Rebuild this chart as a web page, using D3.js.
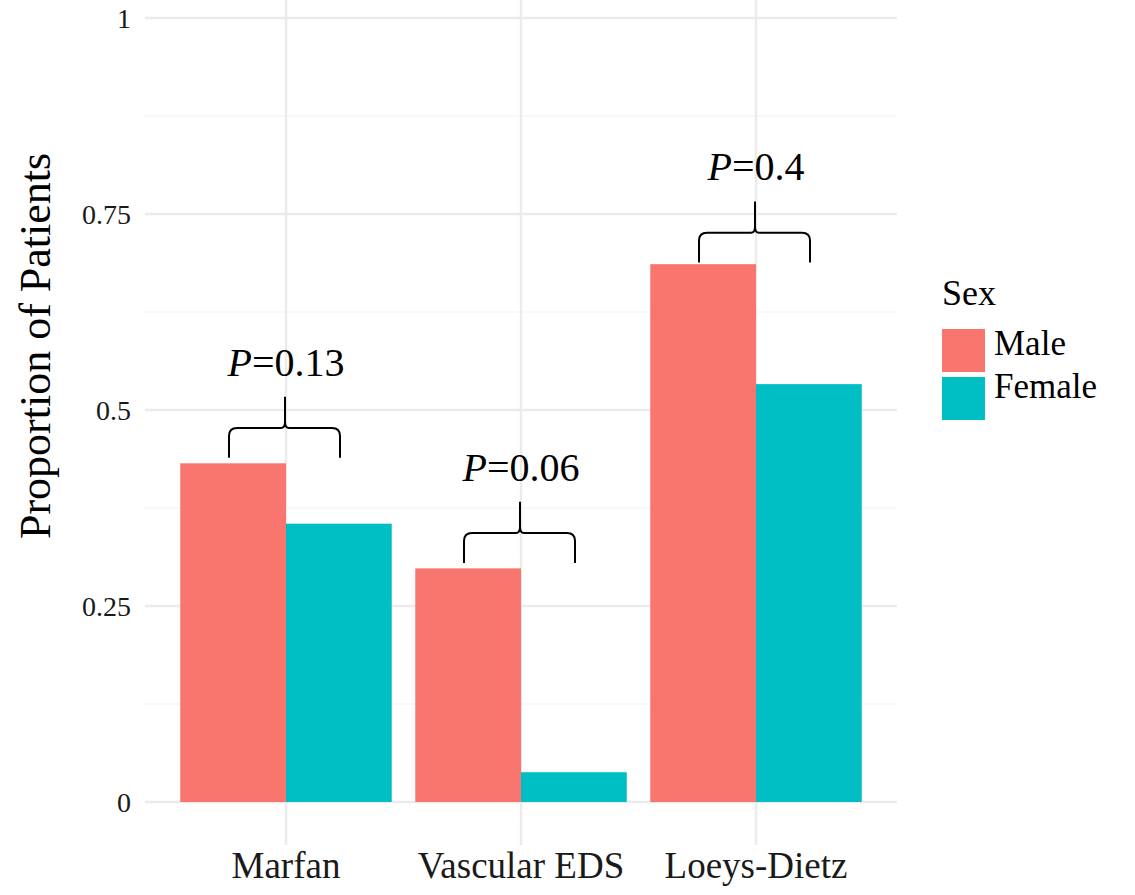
<!DOCTYPE html>
<html>
<head>
<meta charset="utf-8">
<script src="https://cdn.jsdelivr.net/npm/d3@7"></script>
<style>
  body { margin: 0; background: #fff; }
  svg { display: block; font-family: "Palatino Linotype", Palatino, "Book Antiqua", "Liberation Serif", serif; }
</style>
</head>
<body>
<div id="chart"></div>
<script>
// data
const categories = ['Marfan', 'Vascular EDS', 'Loeys-Dietz'];
const sexes = ['Male', 'Female'];
const maleValues = [0.432, 0.298, 0.686];
const femaleValues = [0.355, 0.038, 0.533];
const pLabels = ['0.13', '0.06', '0.4'];
const braceBase = [0.439, 0.305, 0.688];
const majorTicks = [0, 0.25, 0.5, 0.75, 1];
const minorTicks = [0.125, 0.375, 0.625, 0.875];
const tickLabels = ['0', '0.25', '0.5', '0.75', '1'];

const width = 1135, height = 895;
const panel = { left: 145, right: 897, top: 0, bottom: 845 };
const colors = { Male: '#F8766D', Female: '#00BFC4' };

const svg = d3.select('#chart').append('svg')
  .attr('width', width)
  .attr('height', height);

// ggplot style discrete scale with 0.6 expansion each side
const step = (panel.right - panel.left) / (categories.length - 1 + 1.2);
const x = d3.scalePoint()
  .domain(categories)
  .range([panel.left + 0.6 * step, panel.right - 0.6 * step]);
const barW = step * 0.9 / 2;

const y = d3.scaleLinear().domain([0, 1]).range([802, 18]);

// grid
const grid = svg.append('g');
grid.selectAll('line.minor')
  .data(minorTicks)
  .enter().append('line')
  .attr('x1', panel.left).attr('x2', panel.right)
  .attr('y1', d => y(d)).attr('y2', d => y(d))
  .attr('stroke', '#f2f2f2').attr('stroke-width', 1.2);
grid.selectAll('line.major')
  .data(majorTicks)
  .enter().append('line')
  .attr('x1', panel.left).attr('x2', panel.right)
  .attr('y1', d => y(d)).attr('y2', d => y(d))
  .attr('stroke', '#ebebeb').attr('stroke-width', 2.4);
grid.selectAll('line.vert')
  .data(categories)
  .enter().append('line')
  .attr('x1', d => x(d)).attr('x2', d => x(d))
  .attr('y1', panel.top).attr('y2', panel.bottom)
  .attr('stroke', '#ebebeb').attr('stroke-width', 2.4);

// bars
const rows = [];
categories.forEach((c, i) => {
  rows.push({ cat: c, sex: 'Male', value: maleValues[i] });
  rows.push({ cat: c, sex: 'Female', value: femaleValues[i] });
});
svg.append('g').selectAll('rect')
  .data(rows)
  .enter().append('rect')
  .attr('x', d => x(d.cat) + (d.sex === 'Male' ? -barW : 0))
  .attr('width', barW)
  .attr('y', d => y(d.value))
  .attr('height', d => y(0) - y(d.value))
  .attr('fill', d => colors[d.sex]);

// braces + p values
const ann = svg.append('g');
categories.forEach((c, i) => {
  const cx = x(c);
  const x0 = cx - 57, x1 = cx + 54;
  const yb = y(braceBase[i]);
  const yh = y(braceBase[i] + 0.038);
  const yp = y(braceBase[i] + 0.078);
  const r = 8;
  const path = d3.path();
  path.moveTo(x0, yb);
  path.lineTo(x0, yh + r);
  path.quadraticCurveTo(x0, yh, x0 + r, yh);
  path.lineTo(cx - 5, yh);
  path.quadraticCurveTo(cx - 1, yh, cx - 1, yh - 6);
  path.lineTo(cx - 1, yp);
  path.moveTo(cx - 1, yh - 6);
  path.quadraticCurveTo(cx - 1, yh, cx + 3, yh);
  path.lineTo(x1 - r, yh);
  path.quadraticCurveTo(x1, yh, x1, yh + r);
  path.lineTo(x1, yb);
  ann.append('path')
    .attr('d', path.toString())
    .attr('fill', 'none')
    .attr('stroke', '#000')
    .attr('stroke-width', 2);
  const t = ann.append('text')
    .attr('x', cx)
    .attr('y', y(braceBase[i] + 0.078) - 21)
    .attr('text-anchor', 'middle')
    .attr('font-size', 40)
    .attr('fill', '#000');
  t.append('tspan').attr('font-style', 'italic').text('P');
  t.append('tspan').text('=' + pLabels[i]);
});

// y axis labels
svg.append('g').selectAll('text')
  .data(majorTicks)
  .enter().append('text')
  .attr('x', 131)
  .attr('y', d => y(d))
  .attr('dy', '0.35em')
  .attr('text-anchor', 'end')
  .attr('font-size', 28)
  .attr('fill', '#1a1a1a')
  .text((d, i) => tickLabels[i]);

// x axis labels
svg.append('g').selectAll('text')
  .data(categories)
  .enter().append('text')
  .attr('x', d => x(d))
  .attr('y', 878)
  .attr('text-anchor', 'middle')
  .attr('font-size', 37)
  .attr('fill', '#1a1a1a')
  .text(d => d);

// axis title
svg.append('text')
  .attr('transform', 'translate(50,346) rotate(-90)')
  .attr('text-anchor', 'middle')
  .attr('font-size', 44)
  .attr('fill', '#000')
  .text('Proportion of Patients');

// legend
const legend = svg.append('g').attr('transform', 'translate(942,305)');
legend.append('text')
  .attr('x', 0).attr('y', 0)
  .attr('font-size', 36)
  .text('Sex');
sexes.forEach((s, i) => {
  legend.append('rect')
    .attr('x', 0).attr('y', 24 + i * 48)
    .attr('width', 43).attr('height', 43)
    .attr('fill', colors[s]);
  legend.append('text')
    .attr('x', 52).attr('y', 50 + i * 43)
    .attr('font-size', 35)
    .text(s);
});
</script>
</body>
</html>
